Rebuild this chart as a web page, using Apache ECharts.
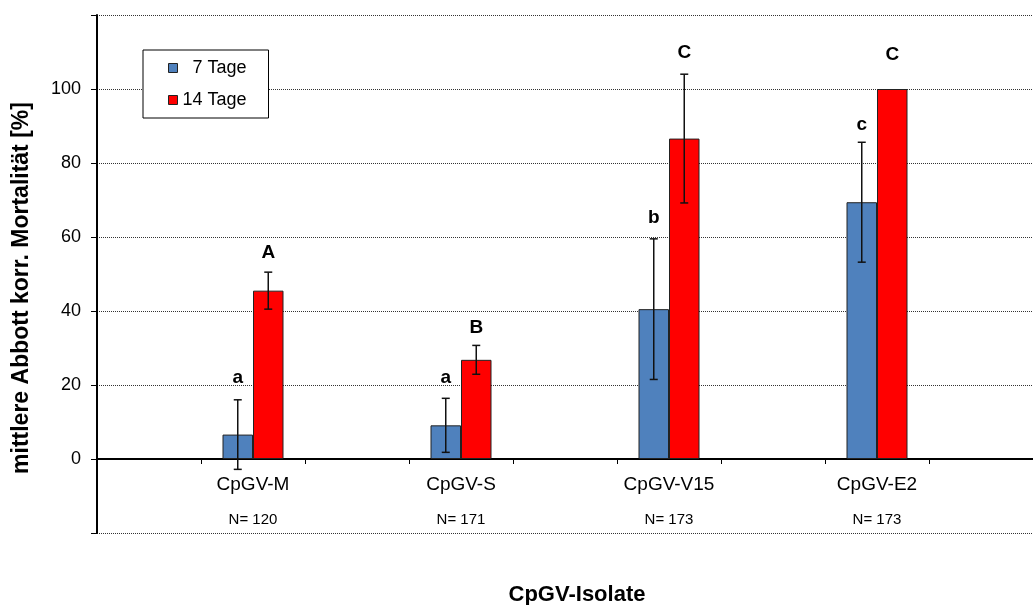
<!DOCTYPE html>
<html>
<head>
<meta charset="utf-8">
<script src="https://cdn.jsdelivr.net/npm/echarts@6/dist/echarts.min.js"></script>
<style>
  html, body { margin: 0; padding: 0; background: #fff; }
  #chart { width: 1033px; height: 605px; }
</style>
</head>
<body>
<div id="chart"></div>
<script>
// ---- data ----
const categories = ['CpGV-M', 'CpGV-S', 'CpGV-V15', 'CpGV-E2'];
const sampleSizes = [120, 171, 173, 173];
const mean7 = [6.6, 9.1, 40.5, 69.4];
const err7 = [9.4, 7.3, 19.0, 16.2];
const mean14 = [45.5, 26.8, 86.6, 100];
const err14 = [5.0, 3.9, 17.4, 0];
const letters7 = ['a', 'a', 'b', 'c'];
const letters14 = ['A', 'B', 'C', 'C'];
const letterLevel7 = [22.0, 22.0, 65.3, 90.4];
const letterLevel14 = [55.8, 35.4, 109.9, 109.3];
const seriesNames = ['7 Tage', '14 Tage'];
const yTickValues = [0, 20, 40, 60, 80, 100];

// ---- build slots (empty slot between each isolate) ----
const SLOTS = categories.length * 2 + 1;
const slotOf = i => 2 * i + 1;
const axisSlots = [];
for (let s = 0; s < SLOTS; s++) axisSlots.push(String(s));
function slotSeries(vals) {
  const arr = new Array(SLOTS).fill(null);
  vals.forEach((v, i) => { arr[slotOf(i)] = v; });
  return arr;
}
const FONT = '"Liberation Sans", Arial, sans-serif';
const BAR_W = 30.5;

const errData = [];
categories.forEach((c, i) => {
  errData.push([slotOf(i), mean7[i], err7[i], -1, letters7[i], letterLevel7[i]]);
  errData.push([slotOf(i), mean14[i], err14[i], 1, letters14[i], letterLevel14[i]]);
});

const chart = echarts.init(document.getElementById('chart'), null, { renderer: 'canvas' });
chart.setOption({
  backgroundColor: '#ffffff',
  animation: false,
  textStyle: { fontFamily: FONT },
  grid: { left: 97, top: 15, width: 948, height: 518, containLabel: false },
  legend: {
    orient: 'vertical',
    left: 143, top: 50,
    data: seriesNames,
    icon: 'rect',
    itemWidth: 9, itemHeight: 9,
    itemGap: 14,
    padding: [9, 22, 9, 25],
    borderColor: '#000', borderWidth: 1,
    backgroundColor: '#fff',
    formatter: name => '{t|' + name + '}',
    textStyle: {
      fontSize: 18, color: '#000', fontFamily: FONT,
      rich: { t: { fontSize: 18, color: '#000', fontFamily: FONT, width: 64, align: 'right' } }
    },
    itemStyle: { borderColor: '#222', borderWidth: 1 }
  },
  xAxis: {
    type: 'category',
    data: axisSlots,
    boundaryGap: true,
    axisLine: { onZero: true, lineStyle: { color: '#000', width: 2 } },
    axisTick: { show: true, interval: 0, length: 5, lineStyle: { color: '#000', width: 1 } },
    splitLine: { show: false },
    axisLabel: {
      interval: 0,
      margin: -61,
      formatter: (v, idx) => {
        if (idx % 2 === 0) return '';
        const i = (idx - 1) / 2;
        return '{a|' + categories[i] + '}\n{n|N= ' + sampleSizes[i] + '}';
      },
      rich: {
        a: { fontSize: 19, lineHeight: 26, color: '#000', fontFamily: FONT },
        n: { fontSize: 15, lineHeight: 44, color: '#000', fontFamily: FONT }
      }
    }
  },
  yAxis: {
    type: 'value',
    min: -20, max: 120, interval: 20,
    axisLine: { show: true, lineStyle: { color: '#000', width: 2 } },
    axisTick: { show: true, inside: false, length: 6, lineStyle: { color: '#000', width: 1 } },
    axisLabel: {
      margin: 16, fontSize: 18, color: '#000', fontFamily: FONT,
      formatter: v => (yTickValues.indexOf(v) >= 0 ? String(v) : '')
    },
    splitLine: { show: true, showMinLine: true, showMaxLine: true, lineStyle: { color: '#333', width: 1, type: [1, 1] } }
  },
  graphic: [
    {
      type: 'text', x: 22, y: 288, rotation: Math.PI / 2,
      style: { text: 'mittlere Abbott korr. Mortalität [%]', font: 'bold 23px ' + FONT, fill: '#000', align: 'center', verticalAlign: 'middle' }
    },
    {
      type: 'text', x: 577, y: 595,
      style: { text: 'CpGV-Isolate', font: 'bold 22px ' + FONT, fill: '#000', align: 'center', verticalAlign: 'middle' }
    }
  ],
  series: [
    {
      name: seriesNames[0], type: 'bar', data: slotSeries(mean7),
      barWidth: BAR_W, barGap: '0%',
      itemStyle: { color: '#4F81BD', borderColor: '#222', borderWidth: 1 }
    },
    {
      name: seriesNames[1], type: 'bar', data: slotSeries(mean14),
      barWidth: BAR_W, barGap: '0%',
      itemStyle: { color: '#FF0000', borderColor: '#222', borderWidth: 1 }
    },
    {
      type: 'custom', z: 10, silent: true,
      data: errData,
      encode: { x: 0, y: 1 },
      renderItem: (params, api) => {
        const slot = api.value(0), m = api.value(1), e = api.value(2), side = api.value(3);
        const letter = errData[params.dataIndex][4];
        const lvl = api.value(5);
        const base = api.coord([slot, m]);
        const cx = base[0] + side * BAR_W / 2;
        const children = [];
        if (e > 0) {
          const top = api.coord([slot, m + e])[1];
          const bot = api.coord([slot, m - e])[1];
          const ls = { stroke: '#111', lineWidth: 1.5 };
          children.push({ type: 'line', shape: { x1: cx, y1: top, x2: cx, y2: bot }, style: ls });
          children.push({ type: 'line', shape: { x1: cx - 4, y1: top, x2: cx + 4, y2: top }, style: ls });
          children.push({ type: 'line', shape: { x1: cx - 4, y1: bot, x2: cx + 4, y2: bot }, style: ls });
        }
        const ly = api.coord([slot, lvl])[1];
        children.push({
          type: 'text', x: cx, y: ly,
          style: { text: letter, font: 'bold 19px ' + FONT, fill: '#000', align: 'center', verticalAlign: 'middle' }
        });
        return { type: 'group', children: children };
      }
    }
  ]
});
</script>
</body>
</html>
